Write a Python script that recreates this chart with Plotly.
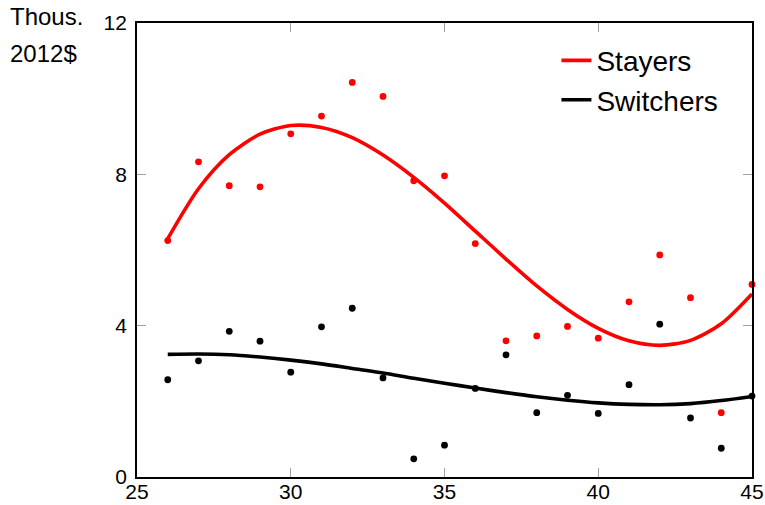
import plotly.graph_objects as go

# Age of the worker
ages = [26, 27, 28, 29, 30, 31, 32, 33, 34, 35,
        36, 37, 38, 39, 40, 41, 42, 43, 44, 45]

# Observed means, thousands of 2012 dollars
stayers_obs = [6.25, 8.33, 7.70, 7.67, 9.07, 9.54, 10.43, 10.06, 7.83, 7.96,
               6.17, 3.60, 3.73, 3.98, 3.67, 4.63, 5.87, 4.74, 1.70, 5.09]
switchers_obs = [2.57, 3.07, 3.85, 3.59, 2.77, 3.97, 4.46, 2.62, 0.48, 0.84,
                 2.34, 3.23, 1.70, 2.16, 1.68, 2.44, 4.04, 1.56, 0.76, 2.14]

# Smoothed profiles
stayers_fit = [6.30, 7.62, 8.52, 9.06, 9.29, 9.24, 8.97, 8.51, 7.92, 7.24,
               6.50, 5.76, 5.05, 4.43, 3.93, 3.60, 3.48, 3.61, 4.05, 4.84]
switchers_fit = [3.24, 3.25, 3.23, 3.17, 3.09, 2.99, 2.87, 2.75, 2.61, 2.48,
                 2.35, 2.23, 2.12, 2.03, 1.96, 1.92, 1.91, 1.94, 2.02, 2.13]

x_ticks = [25, 30, 35, 40, 45]
y_ticks = [0, 4, 8, 12]

RED = "#ff0000"
BLACK = "#000000"
FONT = "Liberation Sans"

fig = go.Figure()

fig.add_trace(go.Scatter(
    x=ages, y=stayers_fit, mode="lines", name="Stayers",
    line=dict(color=RED, width=3.6, shape="spline", smoothing=0.8),
))
fig.add_trace(go.Scatter(
    x=ages, y=switchers_fit, mode="lines", name="Switchers",
    line=dict(color=BLACK, width=3.6, shape="spline", smoothing=0.8),
))
fig.add_trace(go.Scatter(
    x=ages, y=stayers_obs, mode="markers", showlegend=False,
    marker=dict(color=RED, size=6.8), cliponaxis=False,
))
fig.add_trace(go.Scatter(
    x=ages, y=switchers_obs, mode="markers", showlegend=False,
    marker=dict(color=BLACK, size=6.8), cliponaxis=False,
))

axis_common = dict(
    showgrid=False, zeroline=False, automargin=False,
    showline=True, linecolor=BLACK, linewidth=1.8, mirror="ticks",
    ticks="inside", ticklen=9, tickwidth=1.3, tickcolor="#a0a0a0",
)

fig.update_xaxes(range=[25, 45], tickvals=x_ticks,
                 ticktext=[str(v) for v in x_ticks],
                 tickfont=dict(family=FONT, size=21, color=BLACK),
                 ticklabelstandoff=-5,
                 **axis_common)
fig.update_yaxes(range=[0, 12], tickvals=y_ticks,
                 ticktext=[str(v) for v in y_ticks],
                 tickfont=dict(family=FONT, size=21, color=BLACK),
                 ticklabelstandoff=4,
                 **axis_common)

fig.add_annotation(text="Thous.", xref="paper", yref="paper",
                   x=-0.21, y=1.048, xanchor="left", yanchor="top",
                   showarrow=False, font=dict(family=FONT, size=24, color=BLACK))
fig.add_annotation(text="2012$", xref="paper", yref="paper",
                   x=-0.21, y=0.968, xanchor="left", yanchor="top",
                   showarrow=False, font=dict(family=FONT, size=24, color=BLACK))

fig.update_layout(
    width=765, height=505,
    margin=dict(l=137, r=13, t=23, b=28),
    paper_bgcolor="white", plot_bgcolor="white",
    font=dict(family=FONT, color=BLACK),
    legend=dict(x=0.682, y=0.972, xanchor="left", yanchor="top",
                bgcolor="rgba(0,0,0,0)", borderwidth=0,
                font=dict(family=FONT, size=28, color=BLACK)),
)

fig.write_html("out.html")
